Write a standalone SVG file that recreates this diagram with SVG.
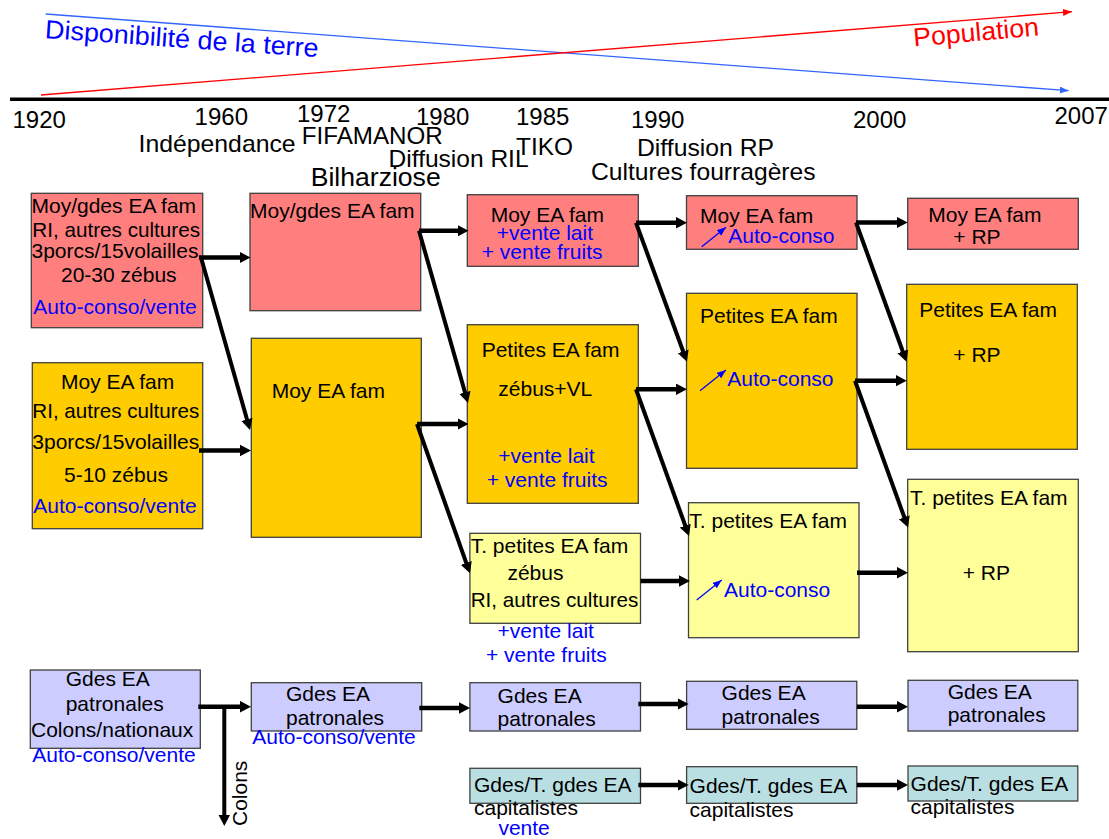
<svg xmlns="http://www.w3.org/2000/svg" width="1109" height="839" viewBox="0 0 1109 839">
<style>
text{font-family:"Liberation Sans",Arial,sans-serif;}
.t{font-size:21px;fill:#000;}
.b{font-size:21px;fill:#0000ff;}
.tl{font-size:24px;fill:#000;}
.pink{fill:#ff7f7f;stroke:#404040;stroke-width:1.3;}
.orange{fill:#ffcc00;stroke:#404040;stroke-width:1.3;}
.yellow{fill:#ffff99;stroke:#404040;stroke-width:1.3;}
.purple{fill:#ccccff;stroke:#404040;stroke-width:1.3;}
.teal{fill:#b9dfe2;stroke:#404040;stroke-width:1.3;}
.arr{fill:none;stroke:#000;stroke-width:4.5;marker-end:url(#ah);}
.diag{fill:none;stroke:#000;stroke-width:4;marker-end:url(#ah);}
.icon{fill:none;stroke:#0000ff;stroke-width:1.3;marker-end:url(#ahb);}
</style>
<defs>
<marker id="ah" markerUnits="userSpaceOnUse" markerWidth="12" markerHeight="12" refX="3" refY="5.75" orient="auto"><path d="M0,0 L11,5.75 L0,11.5 z" fill="#000"/></marker>
<marker id="ahb" markerUnits="userSpaceOnUse" markerWidth="10" markerHeight="8" refX="9" refY="3.5" orient="auto"><path d="M0,0 L9,3.5 L0,7 z" fill="#0000ff"/></marker>
<marker id="ahblue" markerUnits="userSpaceOnUse" markerWidth="10" markerHeight="8" refX="9" refY="3.5" orient="auto"><path d="M0,0 L9,3.5 L0,7 z" fill="#3366ff"/></marker>
<marker id="ahred" markerUnits="userSpaceOnUse" markerWidth="10" markerHeight="8" refX="9" refY="3.5" orient="auto"><path d="M0,0 L9,3.5 L0,7 z" fill="#ff0000"/></marker>
</defs>

<g id="trends">
<line x1="45.7" y1="14" x2="1068.7" y2="90.7" stroke="#3366ff" stroke-width="1.3" marker-end="url(#ahblue)"/>
<line x1="41" y1="95" x2="1072" y2="11.7" stroke="#ff0000" stroke-width="1.3" marker-end="url(#ahred)"/>
<text x="44.6" y="38" transform="rotate(4 44.6 38)" style="font-size:26px;fill:#0000ff" textLength="274" lengthAdjust="spacingAndGlyphs">Disponibilité de la terre</text>
<text x="914" y="46.5" transform="rotate(-5 914 46.5)" style="font-size:26px;fill:#ff0000" textLength="126" lengthAdjust="spacingAndGlyphs">Population</text>
</g>

<g id="timeline">
<line x1="10" y1="99.3" x2="1109" y2="99.3" stroke="#000" stroke-width="3.6"/>
<text class="tl" x="12.5" y="127.7">1920</text>
<text class="tl" x="194.6" y="125">1960</text>
<text class="tl" x="297" y="122.3">1972</text>
<text class="tl" x="416" y="125">1980</text>
<text class="tl" x="516" y="125">1985</text>
<text class="tl" x="631" y="127.7">1990</text>
<text class="tl" x="853" y="127.7">2000</text>
<text class="tl" x="1054.5" y="124.3">2007</text>
<text class="tl" x="138.6" y="151.7" textLength="157" lengthAdjust="spacingAndGlyphs">Indépendance</text>
<text class="tl" x="301.8" y="144" textLength="141" lengthAdjust="spacingAndGlyphs">FIFAMANOR</text>
<text class="tl" x="388.6" y="166.7" textLength="140" lengthAdjust="spacingAndGlyphs">Diffusion RIL</text>
<text class="tl" x="516" y="155" textLength="57" lengthAdjust="spacingAndGlyphs">TIKO</text>
<text class="tl" x="310.7" y="186" style="font-size:26px" textLength="130" lengthAdjust="spacingAndGlyphs">Bilharziose</text>
<text class="tl" x="637" y="156" textLength="137" lengthAdjust="spacingAndGlyphs">Diffusion RP</text>
<text class="tl" x="591" y="180" textLength="224.6" lengthAdjust="spacingAndGlyphs">Cultures fourragères</text>
</g>

<g id="nodeA">
<rect class="pink" x="31.3" y="193.3" width="171.4" height="134.4"/>
<text class="t" x="31.5" y="213.3">Moy/gdes EA fam</text>
<text class="t" x="32.3" y="237.3" textLength="167.7" lengthAdjust="spacingAndGlyphs">RI, autres cultures</text>
<text class="t" x="31.5" y="258.3">3porcs/15volailles</text>
<text class="t" x="61" y="281.7">20-30 zébus</text>
<text class="b" x="33.3" y="314">Auto-conso/vente</text>
</g>
<g id="nodeB">
<rect class="pink" x="250" y="193.3" width="170.7" height="117.4"/>
<text class="t" x="250" y="218.3">Moy/gdes EA fam</text>
</g>
<g id="nodeC">
<rect class="orange" x="32.3" y="362.7" width="170.4" height="166"/>
<text class="t" x="61" y="389.3">Moy EA fam</text>
<text class="t" x="32.3" y="418.3" textLength="167" lengthAdjust="spacingAndGlyphs">RI, autres cultures</text>
<text class="t" x="32.3" y="449.3">3porcs/15volailles</text>
<text class="t" x="64" y="481.7">5-10 zébus</text>
<text class="b" x="33.3" y="513.3">Auto-conso/vente</text>
</g>
<g id="nodeD">
<rect class="orange" x="251.3" y="338.3" width="170" height="199"/>
<text class="t" x="271.7" y="398.3">Moy EA fam</text>
</g>
<g id="nodeE">
<rect class="pink" x="467.3" y="194.7" width="171" height="71.6"/>
<text class="t" x="490.7" y="221.7">Moy EA fam</text>
<text class="b" x="496.7" y="240">+vente lait</text>
<text class="b" x="481.7" y="259">+ vente fruits</text>
</g>
<g id="nodeF">
<rect class="orange" x="467.3" y="324.7" width="171" height="178.6"/>
<text class="t" x="481.7" y="356.7">Petites EA fam</text>
<text class="t" x="498.3" y="395.7">zébus+VL</text>
<text class="b" x="498.3" y="463.3">+vente lait</text>
<text class="b" x="486.7" y="486.7">+ vente fruits</text>
</g>
<g id="nodeM">
<rect class="yellow" x="469.9" y="533.3" width="170.6" height="90"/>
<text class="t" x="470.7" y="553.3">T. petites EA fam</text>
<text class="t" x="507.4" y="580">zébus</text>
<text class="t" x="470.7" y="607.3" textLength="167.7" lengthAdjust="spacingAndGlyphs">RI, autres cultures</text>
<text class="b" x="497.6" y="638.3">+vente lait</text>
<text class="b" x="486" y="662.3">+ vente fruits</text>
</g>
<g id="nodeG">
<rect class="pink" x="686.5" y="195.7" width="170.5" height="53.6"/>
<text class="t" x="700" y="222.7">Moy EA fam</text>
<line class="icon" x1="701.7" y1="246.7" x2="726" y2="227.3"/>
<text class="b" x="728.3" y="243.3">Auto-conso</text>
</g>
<g id="nodeH">
<rect class="orange" x="686.5" y="293.3" width="170.5" height="175"/>
<text class="t" x="700" y="322.7">Petites EA fam</text>
<line class="icon" x1="700" y1="390.7" x2="726" y2="370"/>
<text class="b" x="727.3" y="386">Auto-conso</text>
</g>
<g id="nodeI">
<rect class="yellow" x="688.5" y="502.7" width="170.5" height="135"/>
<text class="t" x="689.3" y="528.3">T. petites EA fam</text>
<line class="icon" x1="696.7" y1="600" x2="721.7" y2="580"/>
<text class="b" x="724" y="596.7">Auto-conso</text>
</g>
<g id="nodeL">
<rect class="pink" x="907.7" y="198.3" width="170.6" height="51"/>
<text class="t" x="928.3" y="222.3">Moy EA fam</text>
<text class="t" x="953.3" y="244">+ RP</text>
</g>
<g id="nodeJ">
<rect class="orange" x="906.7" y="284.3" width="170.6" height="165"/>
<text class="t" x="919.3" y="316.7">Petites EA fam</text>
<text class="t" x="953.3" y="361.7">+ RP</text>
</g>
<g id="nodeK">
<rect class="yellow" x="907.7" y="479.3" width="170.6" height="172.4"/>
<text class="t" x="910" y="505">T. petites EA fam</text>
<text class="t" x="962.7" y="580">+ RP</text>
</g>
<g id="nodeT">
<rect class="purple" x="30.3" y="670" width="170" height="78.3"/>
<text class="t" x="65.7" y="685.7">Gdes EA</text>
<text class="t" x="65.7" y="710.7">patronales</text>
<text class="t" x="31" y="737.3">Colons/nationaux</text>
<text class="b" x="32.3" y="762.3">Auto-conso/vente</text>
</g>
<g id="nodeU">
<rect class="purple" x="251.3" y="682.7" width="170.4" height="48.3"/>
<text class="t" x="286" y="701">Gdes EA</text>
<text class="t" x="286" y="725">patronales</text>
<text class="b" x="252.3" y="744">Auto-conso/vente</text>
</g>
<g id="nodeN">
<rect class="purple" x="469.9" y="682.7" width="170.6" height="48.3"/>
<text class="t" x="497.6" y="702.7">Gdes EA</text>
<text class="t" x="497.6" y="726">patronales</text>
</g>
<g id="nodeO">
<rect class="purple" x="686.6" y="681.3" width="170.2" height="48"/>
<text class="t" x="721.6" y="700">Gdes EA</text>
<text class="t" x="721.6" y="724">patronales</text>
</g>
<g id="nodeP">
<rect class="purple" x="908" y="680.3" width="169.8" height="50.7"/>
<text class="t" x="947.7" y="699">Gdes EA</text>
<text class="t" x="947.7" y="722.3">patronales</text>
</g>
<g id="nodeQ">
<rect class="teal" x="469.9" y="768.3" width="170.6" height="35"/>
<text class="t" x="474" y="791.7">Gdes/T. gdes EA</text>
<text class="t" x="474" y="815">capitalistes</text>
<text class="b" x="498.4" y="835">vente</text>
</g>
<g id="nodeR">
<rect class="teal" x="686.6" y="766.7" width="170.2" height="36.6"/>
<text class="t" x="689.6" y="793.3">Gdes/T. gdes EA</text>
<text class="t" x="689.6" y="816.7">capitalistes</text>
</g>
<g id="nodeS">
<rect class="teal" x="908" y="766" width="169.8" height="35"/>
<text class="t" x="910.6" y="790.7">Gdes/T. gdes EA</text>
<text class="t" x="910.6" y="814">capitalistes</text>
</g>

<g id="connectors">
<path class="arr" d="M199,257.5 H242.5"/>
<path class="diag" d="M201,257.5 L247.8,422.3"/>
<path class="arr" d="M199,450.5 H243"/>
<path class="arr" d="M419,230.7 H460.5"/>
<path class="diag" d="M419,230.7 L465.8,395.3"/>
<path class="arr" d="M417,424 H460.5"/>
<path class="diag" d="M417,424 L467.3,565.8"/>
<path class="arr" d="M636,222.7 H679"/>
<path class="diag" d="M636,222.7 L684.2,354.2"/>
<path class="arr" d="M636,389.3 H679"/>
<path class="diag" d="M636,389.3 L686.3,528.5"/>
<path class="arr" d="M640.5,581 H682"/>
<path class="arr" d="M856,222.5 H899.7"/>
<path class="diag" d="M856,222.5 L903.8,354.2"/>
<path class="arr" d="M855,380.7 H898.7"/>
<path class="diag" d="M855,380.7 L905.3,520"/>
<path class="arr" d="M857,572.7 H900"/>
<path class="arr" d="M198.3,706.7 H243"/>
<path class="diag" d="M224.3,706.7 V818"/>
<path class="arr" d="M419.3,708 H462"/>
<path class="arr" d="M638.4,704 H680.7"/>
<path class="arr" d="M856.8,706.7 H900"/>
<path class="arr" d="M638.4,785 H680.7"/>
<path class="arr" d="M856.8,785 H900"/>
<text class="t" transform="translate(247.3,826) rotate(-90)">Colons</text>
</g>
</svg>
